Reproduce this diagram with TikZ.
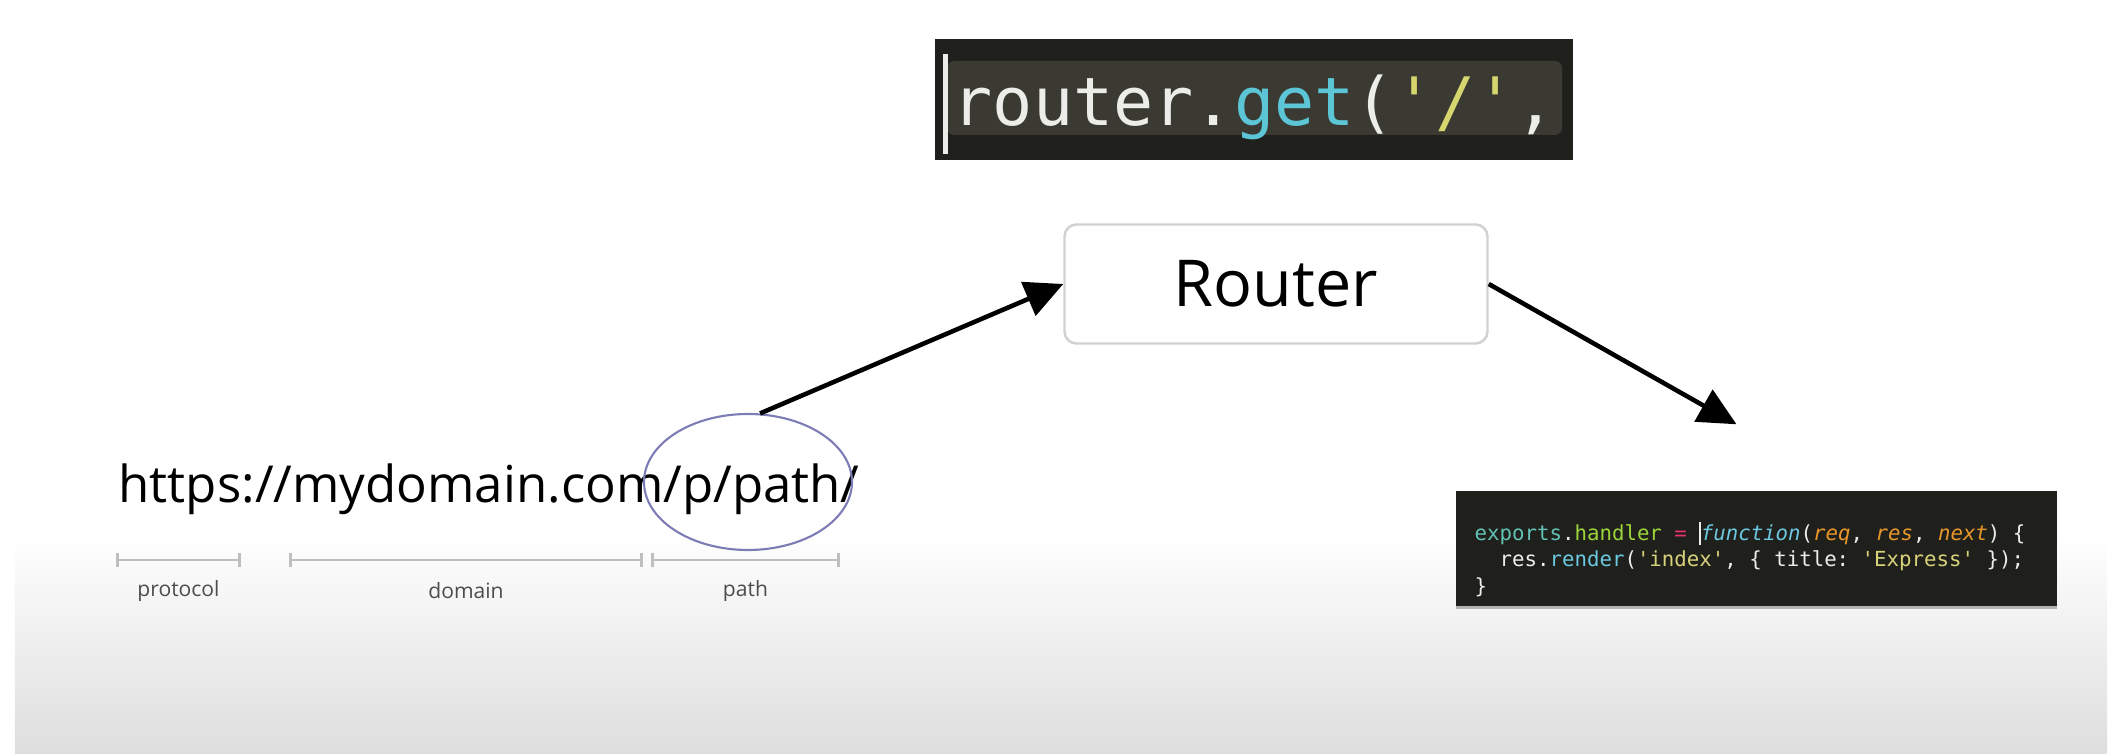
\documentclass[tikz,border=0pt]{standalone}
\usepackage{fontspec}
\setmainfont{Open Sans}
\setmonofont{DejaVu Sans Mono}
\usetikzlibrary{arrows.meta, shapes.geometric, calc, positioning}
\definecolor{codebg}{HTML}{1F201C}
\definecolor{codebar}{HTML}{3A3A33}
\definecolor{codetxt}{HTML}{ECECE8}
\definecolor{cget}{HTML}{5CC6D6}
\definecolor{cstr}{HTML}{D6D66E}
\definecolor{cteal}{HTML}{62C2B6}
\definecolor{cgreen}{HTML}{9DD63A}
\definecolor{cpink}{HTML}{E8306A}
\definecolor{cblue}{HTML}{6CC8E0}
\definecolor{corange}{HTML}{E8962A}
\definecolor{cyellow}{HTML}{D8D27A}
\definecolor{circ}{HTML}{7C7CB6}

\begin{document}
\begin{tikzpicture}[
  flow/.style={-{Triangle[length=0.38cm, width=0.36cm]}, line width=1.3pt},
  box/.style={draw=black!18, rounded corners=0.12cm, line width=0.7pt,
              minimum width=4.23cm, minimum height=1.19cm,
              font=\fontsize{18.4}{22}\selectfont},
  code/.style={fill=codebg, inner sep=0pt},
  span/.style={draw=black!25, line width=0.8pt,
               {Bar[width=0.14cm]}-{Bar[width=0.14cm]}},
  part/.style={font=\fontsize{6}{7}\selectfont, text=black!70}]
  \useasboundingbox (0,0) rectangle (21.21,7.53);
  \shade[top color=white, bottom color=black!13] (0.15,0) rectangle (21.07,2.2);
  % route in code
  \node[code, minimum width=6.38cm, minimum height=1.21cm] (snip) at (12.54,6.535) {};
  \fill[codebar, rounded corners=2pt] (9.47,6.18) rectangle (15.62,6.92);
  \fill[codetxt] (9.43,5.99) rectangle (9.48,6.99);
  \node[anchor=base west, inner sep=0pt, text=codetxt,
        font=\ttfamily\fontsize{19}{20}\selectfont] (call) at (9.52,6.27)
    {router.\textcolor{cget}{get}(\textcolor{cstr}{'/'},};
  \node[box] (router) at (12.76,4.69) {Router};
  % url
  \node[anchor=base west, inner sep=0pt, font=\fontsize{14.5}{17}\selectfont] (url)
    at (1.18,2.50) {https://mydomain.com/p/path/};
  \node[ellipse, draw=circ, line width=0.6pt, minimum width=2.08cm,
        minimum height=1.36cm] (pth) at (7.48,2.71) {};
  \foreach \a/\b/\lbl in {1.16/2.41/protocol, 2.89/6.43/domain, 6.51/8.40/path}
    \draw[span] (\a,1.93) -- node[part, yshift=-0.31cm] (\lbl) {\lbl} (\b,1.93);
  % handler
  \node[code, minimum width=6.01cm, minimum height=1.15cm] (handler) at (17.565,2.045) {};
  \fill[black!30] (14.56,1.47) rectangle (20.57,1.44);
  \node[anchor=base west, inner sep=0pt, align=left, text=codetxt,
        font=\ttfamily\fontsize{5.9}{7.4}\selectfont] (body) at (14.74,1.60)
    {\textcolor{cteal}{exports}.\textcolor{cgreen}{handler} \textcolor{cpink}{=} \rule[-0.2em]{0.4pt}{1.1em}\textcolor{cblue}{\itshape function}(\textcolor{corange}{\itshape req}, \textcolor{corange}{\itshape res}, \textcolor{corange}{\itshape next}) \{\\
     \ \ res.\textcolor{cblue}{render}(\textcolor{cyellow}{'index'}, \{ title: \textcolor{cyellow}{'Express'} \});\\
     \}};
  \coordinate (tip) at ($(handler.north)+(-0.2,0.66)$);
  \draw[flow] (pth.80) -- (router.west);
  \draw[flow] (router.east) -- (tip);
\end{tikzpicture}
\end{document}
